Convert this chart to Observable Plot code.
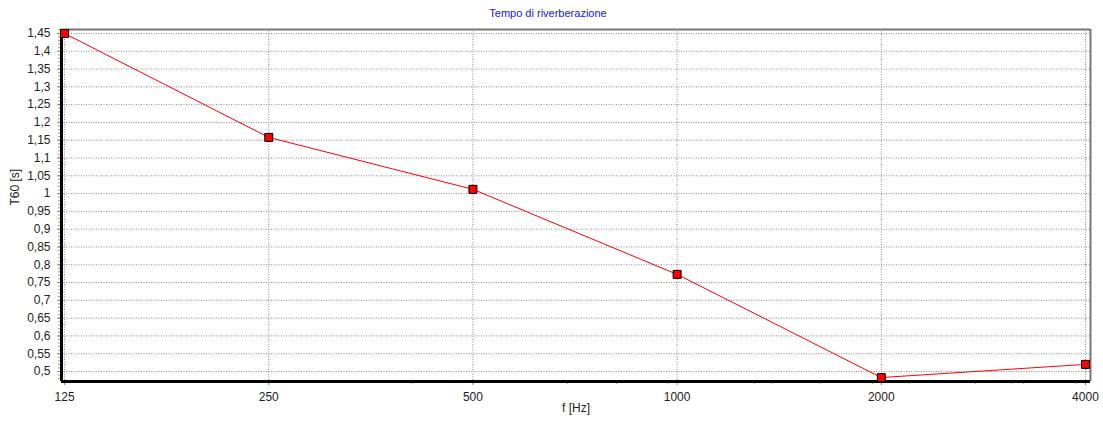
<!DOCTYPE html>
<html>
<head>
<meta charset="utf-8">
<script src="https://cdn.jsdelivr.net/npm/d3@7"></script>
<script src="https://cdn.jsdelivr.net/npm/@observablehq/plot@0.6"></script>
<style>
  html, body { margin: 0; padding: 0; background: #fff; }
  #title { height: 22px; font: 11px "Liberation Sans", Arial, sans-serif; line-height: 26px; text-align: center; color: #1414ff; width: 1096px; }
</style>
</head>
<body>
<div id="title">Tempo di riverberazione</div>
<div id="chart"></div>
<script>
const freqs = [125, 250, 500, 1000, 2000, 4000];
const t60 = [1.45, 1.158, 1.012, 0.773, 0.483, 0.520];
const xTicks = [125, 250, 500, 1000, 2000, 4000];
const xMinorTicks = [407, 689, 814, 971, 1300, 1378, 1627, 1941, 2200, 2754, 3113, 3241, 3880];
const yTicks = [0.5, 0.55, 0.6, 0.65, 0.7, 0.75, 0.8, 0.85, 0.9, 0.95, 1, 1.05, 1.1, 1.15, 1.2, 1.25, 1.3, 1.35, 1.4, 1.45];
const yMinorTicks = d3.range(48, 147).map(d => d / 100);
const xLabel = "f [Hz]";
const yLabel = "T60 [s]";

const data = freqs.map((f, i) => ({f, t: t60[i]}));
const xDomain = [123.7, 4069];
const yDomain = [0.4719, 1.4612];
const fmt = d => String(+d.toFixed(2)).replace(".", ",");
const grid = {stroke: "#8a8a8a", strokeOpacity: 1, strokeWidth: 1, strokeDasharray: "1,1.5"};

const plot = Plot.plot({
  width: 1103,
  height: 405,
  marginTop: 7,
  marginBottom: 46,
  marginLeft: 61,
  marginRight: 13,
  style: {fontSize: "12px", fontFamily: "'Liberation Sans', Arial, sans-serif", color: "#222", background: "#fff"},
  x: {type: "log", domain: xDomain},
  y: {domain: yDomain},
  marks: [
    Plot.gridY(yTicks, grid),
    Plot.gridX(xTicks, grid),
    Plot.axisY(yMinorTicks, {tickSize: 3, tickFormat: () => "", stroke: "#999", label: null}),
    Plot.axisY(yTicks, {tickSize: 4, tickPadding: 7, tickFormat: fmt, stroke: "#888", label: null}),
    Plot.axisX(xMinorTicks, {tickSize: 3, tickFormat: () => "", stroke: "#999", label: null}),
    Plot.axisX(xTicks, {tickSize: 4, tickPadding: 7, tickFormat: d => String(d), stroke: "#888", label: null}),
    Plot.ruleY([yDomain[1]], {stroke: "#777", strokeWidth: 2}),
    Plot.ruleX([xDomain[1]], {stroke: "#777", strokeWidth: 2}),
    Plot.ruleX([xDomain[0]], {stroke: "#000", strokeWidth: 3}),
    Plot.ruleY([yDomain[0]], {stroke: "#000", strokeWidth: 3}),
    Plot.line(data, {x: "f", y: "t", stroke: "#ff0000", strokeWidth: 1}),
    Plot.dot(data, {x: "f", y: "t", symbol: "square", r: 4.5, fill: "#ff0000", stroke: "#000", strokeWidth: 1}),
    Plot.text([yLabel], {frameAnchor: "left", dx: -46, rotate: -90, fontSize: 12, fill: "#222"}),
    Plot.text([xLabel], {frameAnchor: "bottom", dy: 30, fontSize: 12, fill: "#222"})
  ]
});
document.getElementById("chart").appendChild(plot);
</script>
</body>
</html>
